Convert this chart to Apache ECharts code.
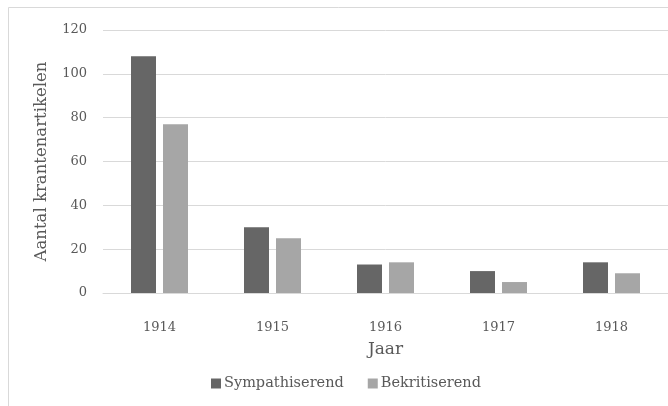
<!DOCTYPE html>
<html>
<head>
<meta charset="utf-8">
<script src="https://cdn.jsdelivr.net/npm/echarts@6/dist/echarts.min.js"></script>
<style>
html,body{margin:0;padding:0;background:#fff;}
#chart{width:668px;height:406px;}
</style>
</head>
<body>
<div id="chart"></div>
<script>
const years = ['1914', '1915', '1916', '1917', '1918'];
const sympathiserend = [108, 30, 13, 10, 14];
const bekritiserend = [77, 25, 14, 5, 9];
const yTicks = [0, 20, 40, 60, 80, 100, 120];

const FONT = 'DejaVu Serif';
const chart = echarts.init(document.getElementById('chart'), null, {renderer: 'canvas'});
chart.setOption({
  animation: false,
  backgroundColor: '#fff',
  textStyle: {fontFamily: FONT, color: '#595959'},
  graphic: [{
    type: 'rect',
    shape: {x: 8.5, y: 7.5, width: 700, height: 450},
    style: {fill: 'none', stroke: '#d9d9d9', lineWidth: 1},
    silent: true
  }],
  grid: {left: 103, right: 0, top: 30, bottom: 113, containLabel: false},
  legend: {
    data: ['Sympathiserend', 'Bekritiserend'],
    bottom: 10,
    left: 206,
    itemWidth: 10, itemHeight: 10, itemGap: 24,
    icon: 'rect',
    textStyle: {fontFamily: FONT, fontSize: 14.5, color: '#595959', padding: [0, 0, 0, -2]}
  },
  xAxis: {
    type: 'category',
    data: years,
    name: 'Jaar',
    nameLocation: 'middle',
    nameGap: 48,
    nameTextStyle: {fontFamily: FONT, fontSize: 17, color: '#595959'},
    axisLine: {show: true, lineStyle: {color: '#d9d9d9', width: 1}},
    axisTick: {show: false},
    axisLabel: {fontFamily: FONT, fontSize: 13, color: '#595959', margin: 28}
  },
  yAxis: {
    type: 'value',
    min: 0, max: 120, interval: 20,
    name: 'Aantal krantenartikelen',
    nameLocation: 'middle',
    nameGap: 53,
    nameRotate: 90,
    nameTextStyle: {fontFamily: FONT, fontSize: 16.5, color: '#595959'},
    axisLine: {show: false},
    axisTick: {show: false},
    splitLine: {lineStyle: {color: '#d9d9d9', width: 1}},
    axisLabel: {
      fontFamily: FONT, fontSize: 13, color: '#595959', margin: 16,
      formatter: v => yTicks.includes(v) ? String(v) : ''
    }
  },
  series: [
    {name: 'Sympathiserend', type: 'bar', data: sympathiserend,
     itemStyle: {color: '#666666'}, barWidth: 25, barGap: '28%'},
    {name: 'Bekritiserend', type: 'bar', data: bekritiserend,
     itemStyle: {color: '#a6a6a6'}, barWidth: 25, barGap: '28%'}
  ]
});
</script>
</body>
</html>
